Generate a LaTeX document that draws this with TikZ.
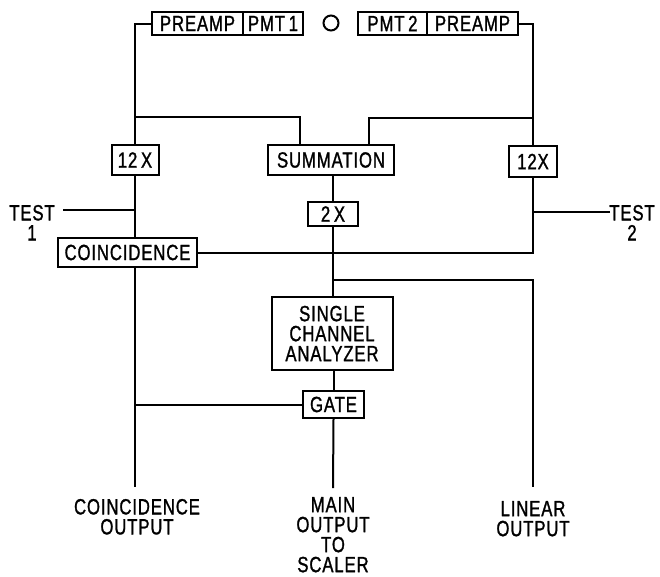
\documentclass[tikz,border=0pt]{standalone}
\usepackage{fontspec}
\usepackage{tikz}
\usetikzlibrary{positioning}
\newfontfamily\labelfont[FakeStretch=0.76,FakeBold=1.2,LetterSpace=4]{Liberation Sans}

\begin{document}
\begin{tikzpicture}[x=1pt, y=-1pt, line width=2pt,
    box/.style={draw, line width=2pt, inner sep=0pt, align=center},
    lbl/.style={inner sep=0pt, align=center}]
            \labelfont\fontsize{22}{20}\selectfont
            \useasboundingbox (0,0) rectangle (660,576);

            % Detector head
            \node[box, minimum width=91pt, minimum height=23pt] (pre1) at (197.5,23.5) {PREAMP};
            \node[box, minimum width=60pt, minimum height=23pt] (pmt1) at (273,23.5) {PMT\,1};
            \node[circle, draw, line width=2pt, minimum size=15pt, inner sep=0pt] (win) at (331,23) {};
            \node[box, minimum width=69pt, minimum height=23pt] (pmt2) at (392.5,23.5) {PMT\,2};
            \node[box, minimum width=91pt, minimum height=23pt] (pre2) at (472.5,23.5) {PREAMP};

            % Amplifiers
            \node[box, minimum width=47pt, minimum height=30pt] (amp1) at (135,160) {12\,X};
            \node[box, minimum width=126pt, minimum height=30pt] (sum) at (331,160) {SUMMATION};
            \node[box, minimum width=48pt, minimum height=31pt] (amp2) at (533,161.5) {12X};
            \node[box, minimum width=50pt, minimum height=24pt] (dbl) at (333,214) {2\,X};

            % Logic
            \node[box, minimum width=139pt, minimum height=29pt] (coin) at (127.5,252.5) {COINCIDENCE};
            \node[box, minimum width=121pt, minimum height=73pt] (sca) at (332,333.5) {SINGLE\\CHANNEL\\ANALYZER};
            \node[box, minimum width=61pt, minimum height=27pt] (gate) at (333.5,404.5) {GATE};

            % Inputs and outputs
            \node[lbl, anchor=north] (test1) at (32,204) {TEST\\1};
            \node[lbl, anchor=north] (test2) at (632,204) {TEST\\2};
            \node[lbl, anchor=north] (coinout) at (137,498) {COINCIDENCE\\OUTPUT};
            \node[lbl, anchor=north] (mainout) at (333,496) {MAIN\\OUTPUT\\TO\\SCALER};
            \node[lbl, anchor=north] (linout) at (533,500) {LINEAR\\OUTPUT};

            \coordinate (tapL) at (135,117);
            \coordinate (tapR) at (533,118);
            \coordinate (t1) at (63,210);
            \coordinate (t2) at (610,212);
            \coordinate (linL) at (333,280);
            \coordinate (cEnd) at (135,487);
            \coordinate (mEnd) at (333,488);
            \coordinate (lEnd) at (533,487);

            % Wiring
            \draw (pre1.west) -| (amp1.north);
            \draw (pre2.east) -| (amp2.north);
            \draw (tapL) -| ([xshift=-31pt]sum.north);
            \draw (tapR) -| ([xshift=38pt]sum.north);
            \draw (amp1.south) -- (amp1.south |- coin.north);
            \draw (t1) -- (t1 -| amp1);
            \draw (t2) -- (t2 -| amp2);
            \draw (coin.east) -| (amp2.south);
            \draw (sum.south -| dbl) -- (dbl.north);
            \draw (dbl.south) -- (sca.north -| dbl);
            \draw (linL) -| (lEnd);
            \draw (sca.south -| gate) -- (gate.north);
            \draw (gate.south) -- (mEnd);
            \draw (gate.west) -- (gate.west -| amp1);
            \draw (coin.south -| amp1) -- (cEnd);
        \end{tikzpicture}
\end{document}
